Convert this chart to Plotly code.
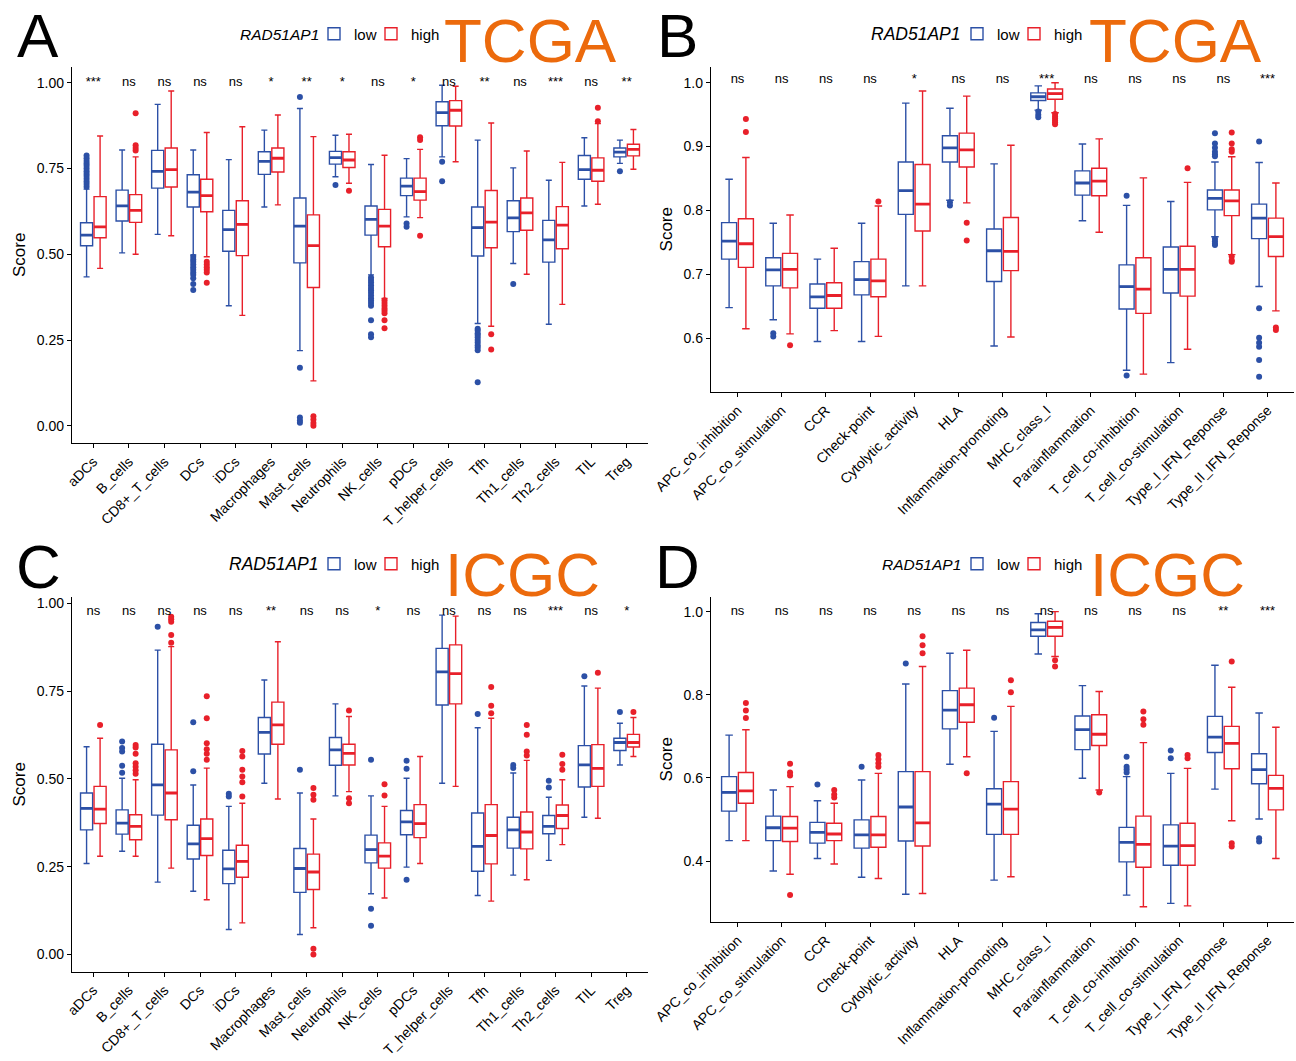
import plotly.graph_objects as go

# ---------------- categories ----------------
cells = ["aDCs", "B_cells", "CD8+_T_cells", "DCs", "iDCs", "Macrophages", "Mast_cells",
         "Neutrophils", "NK_cells", "pDCs", "T_helper_cells", "Tfh", "Th1_cells",
         "Th2_cells", "TIL", "Treg"]
functions = ["APC_co_inhibition", "APC_co_stimulation", "CCR", "Check-point",
             "Cytolytic_activity", "HLA", "Inflammation-promoting", "MHC_class_I",
             "Parainflammation", "T_cell_co-inhibition", "T_cell_co-stimulation",
             "Type_I_IFN_Reponse", "Type_II_IFN_Reponse"]
groups = ["low", "high"]
legend_title = "RAD51AP1"

# ---------------- Panel A: TCGA immune cells ----------------
A_low_lo = [0.434, 0.504, 0.558, 0.498, 0.350, 0.638, 0.219, 0.726, 0.440, 0.609, 0.784, 0.298, 0.473, 0.296, 0.641, 0.765]
A_low_q1 = [0.525, 0.597, 0.693, 0.638, 0.509, 0.733, 0.475, 0.763, 0.556, 0.671, 0.875, 0.495, 0.566, 0.477, 0.719, 0.784]
A_low_med = [0.556, 0.641, 0.742, 0.681, 0.572, 0.771, 0.582, 0.782, 0.602, 0.699, 0.913, 0.578, 0.606, 0.542, 0.747, 0.798]
A_low_q3 = [0.592, 0.687, 0.803, 0.732, 0.628, 0.799, 0.664, 0.800, 0.641, 0.722, 0.945, 0.638, 0.656, 0.599, 0.788, 0.810]
A_low_hi = [0.690, 0.804, 0.937, 0.804, 0.776, 0.862, 0.925, 0.847, 0.762, 0.779, 0.993, 0.833, 0.752, 0.716, 0.840, 0.833]
A_low_out = [[0.697, 0.705, 0.712, 0.720, 0.728, 0.735, 0.742, 0.750, 0.758, 0.765, 0.772, 0.780, 0.788],
             [], [],
             [0.493, 0.485, 0.478, 0.470, 0.462, 0.455, 0.447, 0.440, 0.430, 0.413, 0.396],
             [], [],
             [0.959, 0.169, 0.024, 0.015, 0.009],
             [0.702],
             [0.432, 0.425, 0.418, 0.410, 0.402, 0.395, 0.388, 0.380, 0.372, 0.365, 0.358, 0.350, 0.308, 0.267, 0.258],
             [0.590, 0.580],
             [0.770, 0.713],
             [0.283, 0.278, 0.270, 0.265, 0.258, 0.250, 0.243, 0.235, 0.228, 0.220, 0.127],
             [0.413], [], [], [0.742]]
A_high_lo = [0.459, 0.500, 0.554, 0.493, 0.322, 0.644, 0.131, 0.707, 0.371, 0.607, 0.770, 0.290, 0.442, 0.354, 0.646, 0.748]
A_high_q1 = [0.548, 0.593, 0.696, 0.624, 0.496, 0.740, 0.403, 0.753, 0.522, 0.658, 0.874, 0.519, 0.570, 0.516, 0.713, 0.787]
A_high_med = [0.580, 0.628, 0.747, 0.671, 0.587, 0.780, 0.525, 0.775, 0.582, 0.683, 0.920, 0.594, 0.621, 0.585, 0.745, 0.806]
A_high_q3 = [0.668, 0.674, 0.810, 0.719, 0.656, 0.810, 0.615, 0.799, 0.631, 0.722, 0.948, 0.686, 0.664, 0.639, 0.781, 0.821]
A_high_hi = [0.845, 0.784, 0.976, 0.855, 0.872, 0.906, 0.843, 0.850, 0.789, 0.806, 0.990, 0.883, 0.801, 0.768, 0.881, 0.864]
A_high_out = [[], [0.911, 0.818, 0.810, 0.803], [],
              [0.478, 0.470, 0.462, 0.455, 0.447, 0.417],
              [], [],
              [0.028, 0.018, 0.008, 0.0],
              [0.685],
              [0.366, 0.358, 0.350, 0.342, 0.335, 0.328, 0.308, 0.284],
              [0.841, 0.833, 0.554],
              [],
              [0.267, 0.222],
              [], [], [0.927, 0.888], []]
A_sig = ["***", "ns", "ns", "ns", "ns", "*", "**", "*", "ns", "*", "ns", "**", "ns", "***", "ns", "**"]

# ---------------- Panel B: TCGA immune functions ----------------
B_low_lo = [0.648, 0.629, 0.595, 0.595, 0.682, 0.816, 0.588, 0.957, 0.784, 0.550, 0.562, 0.759, 0.681]
B_low_q1 = [0.724, 0.682, 0.647, 0.668, 0.794, 0.876, 0.689, 0.972, 0.824, 0.646, 0.671, 0.801, 0.756]
B_low_med = [0.752, 0.707, 0.665, 0.692, 0.831, 0.898, 0.737, 0.978, 0.843, 0.681, 0.708, 0.819, 0.788]
B_low_q3 = [0.781, 0.726, 0.685, 0.720, 0.876, 0.917, 0.771, 0.984, 0.862, 0.715, 0.743, 0.832, 0.810]
B_low_hi = [0.849, 0.780, 0.724, 0.780, 0.968, 0.960, 0.873, 0.995, 0.904, 0.808, 0.814, 0.876, 0.875]
B_low_out = [[], [0.608, 0.603], [], [], [], [0.813, 0.808], [], [0.955, 0.950, 0.946], [],
             [0.823, 0.542], [],
             [0.921, 0.905, 0.898, 0.892, 0.888, 0.885, 0.756, 0.752, 0.748, 0.746],
             [0.908, 0.647, 0.601, 0.593, 0.587, 0.566, 0.540]]
B_high_lo = [0.615, 0.607, 0.612, 0.603, 0.682, 0.812, 0.602, 0.953, 0.766, 0.544, 0.583, 0.731, 0.643]
B_high_q1 = [0.711, 0.679, 0.647, 0.665, 0.768, 0.868, 0.706, 0.974, 0.823, 0.639, 0.666, 0.792, 0.728]
B_high_med = [0.748, 0.708, 0.667, 0.690, 0.810, 0.895, 0.736, 0.983, 0.846, 0.677, 0.708, 0.815, 0.759]
B_high_q3 = [0.787, 0.733, 0.687, 0.724, 0.872, 0.921, 0.789, 0.990, 0.866, 0.726, 0.744, 0.832, 0.788]
B_high_hi = [0.883, 0.793, 0.741, 0.807, 0.987, 0.979, 0.902, 1.000, 0.912, 0.851, 0.844, 0.884, 0.843]
B_high_out = [[0.943, 0.923], [0.589], [], [0.814], [], [0.781, 0.753], [],
              [0.951, 0.947, 0.944, 0.941, 0.938, 0.935], [], [], [0.866],
              [0.922, 0.905, 0.896, 0.892, 0.728, 0.722, 0.720],
              [0.617, 0.613]]
B_sig = ["ns", "ns", "ns", "ns", "*", "ns", "ns", "***", "ns", "ns", "ns", "ns", "***"]

# ---------------- Panel C: ICGC immune cells ----------------
C_low_lo = [0.259, 0.294, 0.206, 0.180, 0.071, 0.488, 0.057, 0.452, 0.173, 0.249, 0.488, 0.168, 0.226, 0.268, 0.391, 0.540]
C_low_q1 = [0.355, 0.343, 0.397, 0.272, 0.202, 0.571, 0.177, 0.539, 0.261, 0.341, 0.711, 0.237, 0.303, 0.344, 0.477, 0.581]
C_low_med = [0.416, 0.374, 0.483, 0.315, 0.244, 0.633, 0.245, 0.583, 0.299, 0.378, 0.805, 0.308, 0.355, 0.365, 0.540, 0.604]
C_low_q3 = [0.460, 0.412, 0.599, 0.368, 0.297, 0.675, 0.302, 0.618, 0.340, 0.410, 0.872, 0.403, 0.391, 0.396, 0.595, 0.616]
C_low_hi = [0.592, 0.502, 0.867, 0.483, 0.422, 0.782, 0.460, 0.714, 0.452, 0.502, 0.967, 0.646, 0.517, 0.448, 0.765, 0.659]
C_low_out = [[], [0.607, 0.588, 0.578, 0.538, 0.518], [0.934], [0.662, 0.522], [0.458, 0.450], [],
             [0.526], [], [0.555, 0.130, 0.082], [0.552, 0.529, 0.213], [], [0.685],
             [0.540, 0.531], [0.495, 0.476], [0.793], [0.691]]
C_high_lo = [0.280, 0.280, 0.246, 0.156, 0.090, 0.443, 0.076, 0.464, 0.161, 0.259, 0.479, 0.152, 0.213, 0.313, 0.388, 0.564]
C_high_q1 = [0.373, 0.327, 0.384, 0.282, 0.220, 0.599, 0.185, 0.540, 0.246, 0.333, 0.714, 0.258, 0.301, 0.359, 0.479, 0.591]
C_high_med = [0.414, 0.365, 0.460, 0.330, 0.265, 0.654, 0.235, 0.573, 0.280, 0.373, 0.800, 0.339, 0.349, 0.396, 0.530, 0.604]
C_high_q3 = [0.479, 0.398, 0.583, 0.386, 0.311, 0.719, 0.286, 0.599, 0.318, 0.427, 0.882, 0.427, 0.406, 0.426, 0.598, 0.627]
C_high_hi = [0.616, 0.498, 0.877, 0.531, 0.431, 0.891, 0.386, 0.678, 0.422, 0.564, 0.964, 0.673, 0.553, 0.498, 0.759, 0.675]
C_high_out = [[0.654], [0.597, 0.590, 0.572, 0.545, 0.535, 0.525, 0.515],
              [0.962, 0.955, 0.948, 0.910, 0.888],
              [0.736, 0.673, 0.602, 0.585, 0.572, 0.555],
              [0.580, 0.564, 0.526, 0.507, 0.491, 0.450], [],
              [0.474, 0.455, 0.441, 0.016, 0.0],
              [0.695, 0.445, 0.431], [0.485, 0.453], [], [],
              [0.762, 0.709, 0.687], [0.654, 0.626, 0.578, 0.567],
              [0.569, 0.543, 0.526], [0.803], [0.691]]
C_sig = ["ns", "ns", "ns", "ns", "ns", "**", "ns", "ns", "*", "ns", "ns", "ns", "ns", "***", "ns", "*"]

# ---------------- Panel D: ICGC immune functions ----------------
D_low_lo = [0.449, 0.376, 0.406, 0.361, 0.320, 0.633, 0.354, 0.898, 0.599, 0.318, 0.298, 0.573, 0.501]
D_low_q1 = [0.520, 0.449, 0.443, 0.431, 0.448, 0.718, 0.464, 0.941, 0.668, 0.398, 0.390, 0.661, 0.586]
D_low_med = [0.565, 0.480, 0.469, 0.463, 0.530, 0.763, 0.537, 0.956, 0.716, 0.445, 0.436, 0.698, 0.620]
D_low_q3 = [0.603, 0.508, 0.493, 0.499, 0.615, 0.810, 0.574, 0.974, 0.749, 0.481, 0.487, 0.748, 0.658]
D_low_hi = [0.703, 0.571, 0.545, 0.595, 0.826, 0.900, 0.712, 0.995, 0.822, 0.603, 0.611, 0.871, 0.756]
D_low_out = [[], [], [0.584], [0.627], [0.875], [], [0.745], [], [],
             [0.651, 0.627, 0.620, 0.613], [0.666, 0.647], [], [0.455, 0.447]]
D_high_lo = [0.449, 0.368, 0.393, 0.358, 0.322, 0.651, 0.362, 0.892, 0.571, 0.290, 0.292, 0.497, 0.406]
D_high_q1 = [0.539, 0.447, 0.449, 0.433, 0.436, 0.734, 0.464, 0.941, 0.678, 0.385, 0.390, 0.622, 0.523]
D_high_med = [0.569, 0.479, 0.465, 0.463, 0.492, 0.776, 0.525, 0.962, 0.705, 0.440, 0.437, 0.683, 0.575]
D_high_q3 = [0.613, 0.507, 0.491, 0.507, 0.615, 0.816, 0.591, 0.977, 0.752, 0.508, 0.491, 0.724, 0.606]
D_high_hi = [0.716, 0.579, 0.539, 0.611, 0.868, 0.907, 0.772, 1.000, 0.808, 0.685, 0.623, 0.818, 0.722]
D_high_out = [[0.780, 0.762, 0.744], [0.634, 0.613, 0.606, 0.318], [0.571, 0.560, 0.553],
              [0.655, 0.645, 0.635, 0.627], [0.941, 0.919, 0.900], [0.611], [0.835, 0.806],
              [0.883, 0.868], [0.565], [0.760, 0.741, 0.728], [0.655, 0.647],
              [0.880, 0.443, 0.435], []]
D_sig = ["ns", "ns", "ns", "ns", "ns", "ns", "ns", "ns", "ns", "ns", "ns", "**", "***"]

# ---------------- styling ----------------
COLORS = {"low": "#2C50A6", "high": "#E8202A"}
ORANGE = "#EC6A0C"
FONT = "Liberation Sans, Arial, sans-serif"
W, H = 1296, 1061
OFFSET = {"low": -0.19, "high": 0.19}
BOXW = 0.34

panels = [
    dict(key="A", cats=cells, stats={
        "low": (A_low_lo, A_low_q1, A_low_med, A_low_q3, A_low_hi, A_low_out),
        "high": (A_high_lo, A_high_q1, A_high_med, A_high_q3, A_high_hi, A_high_out)},
         sig=A_sig, sig_y=1.0, px=(72, 648), py=(66.7, 442.9), yr=[-0.05, 1.047],
         tv=[0, 0.25, 0.5, 0.75, 1.0], tf=".2f", legend="legend",
         title_xy=(321, 34), title_size=15.5, leg_xy=(314, 34),
         tag="TCGA", tag_xy=(530, 40), letter_xy=(38, 36)),
    dict(key="B", cats=functions, stats={
        "low": (B_low_lo, B_low_q1, B_low_med, B_low_q3, B_low_hi, B_low_out),
        "high": (B_high_lo, B_high_q1, B_high_med, B_high_q3, B_high_hi, B_high_out)},
         sig=B_sig, sig_y=1.004, px=(711, 1294), py=(66.7, 391.7), yr=[0.5165, 1.025],
         tv=[0.6, 0.7, 0.8, 0.9, 1.0], tf=".1f", legend="legend2",
         title_xy=(963, 34), title_size=17.5, leg_xy=(957, 34),
         tag="TCGA", tag_xy=(1175, 40), letter_xy=(677, 36)),
    dict(key="C", cats=cells, stats={
        "low": (C_low_lo, C_low_q1, C_low_med, C_low_q3, C_low_hi, C_low_out),
        "high": (C_high_lo, C_high_q1, C_high_med, C_high_q3, C_high_hi, C_high_out)},
         sig=C_sig, sig_y=0.976, px=(72, 648), py=(597, 971.5), yr=[-0.0485, 1.0185],
         tv=[0, 0.25, 0.5, 0.75, 1.0], tf=".2f", legend="legend3",
         title_xy=(321, 564), title_size=17.5, leg_xy=(314, 564),
         tag="ICGC", tag_xy=(522, 574), letter_xy=(38, 566)),
    dict(key="D", cats=functions, stats={
        "low": (D_low_lo, D_low_q1, D_low_med, D_low_q3, D_low_hi, D_low_out),
        "high": (D_high_lo, D_high_q1, D_high_med, D_high_q3, D_high_hi, D_high_out)},
         sig=D_sig, sig_y=1.0, px=(711, 1294), py=(596.7, 921.7), yr=[0.254, 1.036],
         tv=[0.4, 0.6, 0.8, 1.0], tf=".1f", legend="legend4",
         title_xy=(963, 564), title_size=15.5, leg_xy=(957, 564),
         tag="ICGC", tag_xy=(1167, 574), letter_xy=(677, 566)),
]

fig = go.Figure()
layout = dict(width=W, height=H, margin=dict(l=0, r=0, t=0, b=0, autoexpand=False),
              paper_bgcolor="white", plot_bgcolor="white",
              font=dict(family=FONT, color="black", size=14),
              showlegend=True, annotations=[])

for k, p in enumerate(panels, start=1):
    xa = "x" if k == 1 else f"x{k}"
    ya = "y" if k == 1 else f"y{k}"
    n = len(p["cats"])
    idx = list(range(n))
    unit_px = (p["px"][1] - p["px"][0]) / (n + 0.2)
    for g in groups:
        lo, q1, med, q3, hi, out = p["stats"][g]
        xs = [i + OFFSET[g] for i in idx]
        col = COLORS[g]
        fig.add_trace(go.Box(
            x=xs, lowerfence=lo, q1=q1, median=med, q3=q3, upperfence=hi,
            width=BOXW, fillcolor="white", line=dict(color=col, width=1.4),
            name=g, legend=p["legend"], xaxis=xa, yaxis=ya, hoverinfo="skip",
            showlegend=True))
        # thicker median bars
        fig.add_trace(go.Scatter(
            x=xs, y=med, mode="markers", xaxis=xa, yaxis=ya, showlegend=False,
            hoverinfo="skip",
            marker=dict(symbol="line-ew", size=BOXW * unit_px / 1.4, color=col,
                        line=dict(color=col, width=2.8))))
        # outliers
        ox, oy = [], []
        for i, vals in enumerate(out):
            for v in vals:
                ox.append(i + OFFSET[g])
                oy.append(v)
        fig.add_trace(go.Scatter(
            x=ox, y=oy, mode="markers", xaxis=xa, yaxis=ya, showlegend=False,
            hoverinfo="skip", marker=dict(size=6, color=col)))
    # invisible spacer entry so the legend box is wide enough for the last label
    fig.add_trace(go.Scatter(
        x=[None], y=[None], mode="markers", name=" ", legend=p["legend"],
        xaxis=xa, yaxis=ya, showlegend=True, hoverinfo="skip",
        marker=dict(size=1, color="rgba(0,0,0,0)")))
    # significance labels
    fig.add_trace(go.Scatter(
        x=idx, y=[p["sig_y"]] * n, text=p["sig"], mode="text",
        textposition="middle center", textfont=dict(size=13, color="black", family=FONT),
        xaxis=xa, yaxis=ya, showlegend=False, hoverinfo="skip"))

    xd = [p["px"][0] / W, p["px"][1] / W]
    yd = [1 - p["py"][1] / H, 1 - p["py"][0] / H]
    layout["xaxis" if k == 1 else f"xaxis{k}"] = dict(
        domain=xd, anchor=ya, range=[-0.6, n - 0.4], tickmode="array",
        tickvals=idx, ticktext=p["cats"], tickangle=-45, ticks="outside",
        ticklen=4, tickwidth=1.2, tickcolor="black", showline=True,
        linecolor="black", linewidth=1.3, showgrid=False, zeroline=False,
        automargin=False,
        tickfont=dict(size=14, color="black", family=FONT))
    layout["yaxis" if k == 1 else f"yaxis{k}"] = dict(
        domain=yd, anchor=xa, range=p["yr"], tickmode="array", tickvals=p["tv"],
        tickformat=p["tf"], ticks="outside", ticklen=4, tickwidth=1.2,
        tickcolor="black", showline=True, linecolor="black", linewidth=1.3,
        showgrid=False, zeroline=False, automargin=False,
        tickfont=dict(size=14, color="black", family=FONT),
        title=dict(text="Score", font=dict(size=17, family=FONT, color="black"),
                   standoff=6))
    layout[p["legend"]] = dict(
        orientation="h", x=p["leg_xy"][0] / W, y=1 - p["leg_xy"][1] / H,
        xanchor="left", yanchor="middle", bgcolor="rgba(0,0,0,0)",
        font=dict(size=15, family=FONT, color="black"),
        itemwidth=30, tracegroupgap=0, entrywidth=12, entrywidthmode="pixels",
        itemclick=False, itemdoubleclick=False)
    # legend title (italic gene name)
    layout["annotations"].append(dict(
        text=f"<i>{legend_title}</i>", x=p["title_xy"][0] / W, y=1 - p["title_xy"][1] / H,
        xref="paper", yref="paper", xanchor="right", yanchor="middle",
        showarrow=False, font=dict(size=p["title_size"], family=FONT, color="black")))
    layout["annotations"].append(dict(
        text=p["key"], x=p["letter_xy"][0] / W, y=1 - p["letter_xy"][1] / H,
        xref="paper", yref="paper", xanchor="center", yanchor="middle",
        showarrow=False, font=dict(size=62, family=FONT, color="black")))
    layout["annotations"].append(dict(
        text=p["tag"], x=p["tag_xy"][0] / W, y=1 - p["tag_xy"][1] / H,
        xref="paper", yref="paper", xanchor="center", yanchor="middle",
        showarrow=False, font=dict(size=62, family=FONT, color=ORANGE)))

fig.update_layout(**layout)
fig.write_html("out.html")
